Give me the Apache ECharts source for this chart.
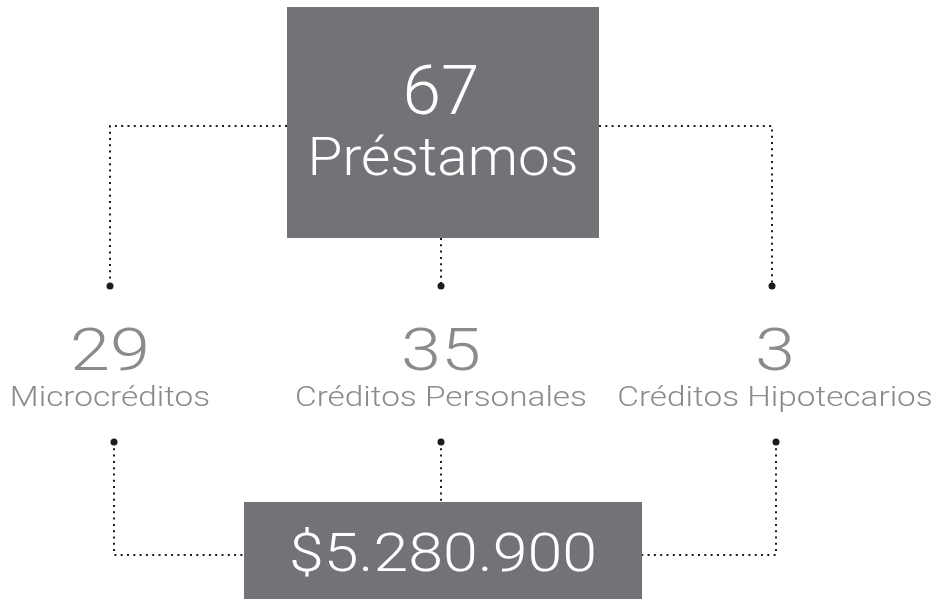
<!DOCTYPE html>
<html>
<head>
<meta charset="utf-8">
<script src="https://cdn.jsdelivr.net/npm/echarts@6/dist/echarts.min.js"></script>
<style type="text/css">
html,body{margin:0;padding:0;background:#fff;}
#chart{width:940px;height:599px;}
</style>
</head>
<body>
<div id="chart"></div>
<script type="text/javascript">
// datos
var categorias = ['Microcréditos', 'Créditos Personales', 'Créditos Hipotecarios'];
var cantidades = [29, 35, 3];
var totalPrestamos = 67;
var tituloTotal = 'Préstamos';
var montoTotal = 5280900;

var FONT = 'Roboto';
var GRIS = '#8b8a8f';
var CAJA = '#747277';
var PUNTOS = '#1c1c1c';

function formatoMonto(v){
    return '$' + String(v).replace(/\B(?=(\d{3})+(?!\d))/g, '.');
}

function linea(pts){
    return {
        type: 'polyline',
        shape: {points: pts},
        style: {stroke: PUNTOS, lineWidth: 2, lineDash: [2, 4.3], fill: null}
    };
}
function punto(x, y){
    return {type: 'circle', shape: {cx: x, cy: y, r: 3.5}, style: {fill: PUNTOS}};
}
// el texto original es mas ancho que Roboto: se estira en x
function texto(x, y, t, size, color, sx){
    return {
        type: 'text',
        x: x, y: y,
        scaleX: sx || 1,
        style: {x: 0, y: 0, text: t, fill: color, align: 'center', verticalAlign: 'middle',
            font: '300 ' + size + 'px ' + FONT}
    };
}

// las filas se leen en pixeles del eje y oculto
function renderDesglose(params, api){
    var i = api.value(0);
    var p = api.coord([i, 0]);
    var x = p[0];
    var y = function(v){ return api.coord([i, v])[1]; };
    var mid = api.coord([1, 0])[0] + 2;
    var xb = x + (i === 1 ? 0 : 4);
    var hijos = [];

    if (i === 0) hijos.push(linea([[mid - 156, y(126)], [x, y(126)], [x, y(286)]]));
    else if (i === 2) hijos.push(linea([[mid + 156, y(126)], [x, y(126)], [x, y(286)]]));
    else hijos.push(linea([[x, y(238)], [x, y(286)]]));
    hijos.push(punto(x, y(286)));

    hijos.push(texto(x + (i === 2 ? 3 : 0), y(355), String(api.value(1)), 60, GRIS, 1.2));
    hijos.push(texto(x + (i === 2 ? 3 : 0), y(399), categorias[i], 28, GRIS, 1.19));

    if (i === 0) hijos.push(linea([[xb, y(442)], [xb, y(555)], [mid - 199, y(555)]]));
    else if (i === 2) hijos.push(linea([[xb, y(442)], [xb, y(555)], [mid + 199, y(555)]]));
    else hijos.push(linea([[xb, y(442)], [xb, y(502)]]));
    hijos.push(punto(xb, y(442)));

    return {type: 'group', children: hijos};
}

function renderTotal(params, api){
    var c = api.coord([api.value(0), 7]);
    var x = c[0] + 2;
    var b = api.coord([api.value(0), 238]);
    return {type: 'group', children: [
        {type: 'rect', shape: {x: x - 156, y: c[1], width: 312, height: b[1] - c[1]}, style: {fill: CAJA}},
        texto(x - 2, api.coord([0, 97])[1], String(api.value(1)), 68, '#fff', 1.02),
        texto(x, api.coord([0, 161])[1], tituloTotal, 54, '#fff', 1.05)
    ]};
}

function renderMonto(params, api){
    var c = api.coord([api.value(0), 502]);
    var x = c[0] + 2;
    var b = api.coord([api.value(0), 599]);
    return {type: 'group', children: [
        {type: 'rect', shape: {x: x - 199, y: c[1], width: 398, height: b[1] - c[1]}, style: {fill: CAJA}},
        texto(x, api.coord([0, 557])[1], formatoMonto(api.value(1)), 54, '#fff', 1.16)
    ]};
}

var chart = echarts.init(document.getElementById('chart'));
var option = {
    animation: false,
    backgroundColor: '#fff',
    grid: {left: 110, right: 168, top: 0, bottom: 0},
    xAxis: {type: 'category', data: categorias, boundaryGap: false, show: false},
    yAxis: {type: 'value', min: 0, max: 599, inverse: true, show: false},
    series: [
        {
            name: 'desglose',
            type: 'custom',
            renderItem: renderDesglose,
            data: cantidades.map(function(v, i){ return [i, v]; }),
            clip: false
        },
        {
            name: 'total',
            type: 'custom',
            renderItem: renderTotal,
            data: [[1, totalPrestamos]],
            clip: false
        },
        {
            name: 'monto',
            type: 'custom',
            renderItem: renderMonto,
            data: [[1, montoTotal]],
            clip: false
        }
    ]
};
chart.setOption(option);
</script>
</body>
</html>
